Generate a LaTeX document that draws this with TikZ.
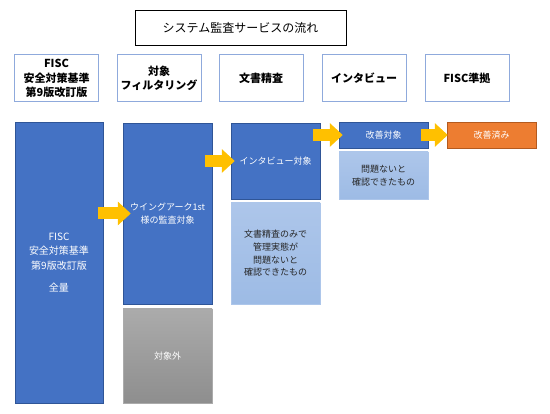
\documentclass[tikz,border=0pt]{standalone}
\usepackage{fontspec}
\setmainfont{Noto Sans CJK JP}
\usetikzlibrary{arrows.meta}
\definecolor{boxblue}{HTML}{4472C4}
\definecolor{boxedge}{HTML}{2F5597}
\definecolor{headedge}{HTML}{8FAADC}
\definecolor{paletop}{HTML}{ADC6EA}
\definecolor{palebot}{HTML}{9DBBE5}
\definecolor{greytop}{HTML}{ABABAB}
\definecolor{greybot}{HTML}{8E8E8E}
\definecolor{flowyellow}{HTML}{FFC000}
\definecolor{doneorange}{HTML}{ED7D31}
\definecolor{doneedge}{HTML}{B45A1E}

\begin{document}
\begin{tikzpicture}[x=1pt,y=-1pt,
        head/.style={draw=headedge,line width=1pt,minimum width=84pt,minimum height=47pt,align=center,font=\fontsize{11}{14.5}\selectfont\bfseries},
        bluebox/.style={fill=boxblue,draw=boxedge,text=white,align=center,minimum width=89pt,font=\fontsize{9}{12.7}\selectfont},
        palebox/.style={top color=paletop,bottom color=palebot,draw=paletop,text=black!85,align=center,minimum width=89pt,font=\fontsize{9}{12.7}\selectfont},
        flow/.style={draw=flowyellow,line width=12pt,-{Triangle[width=23pt,length=13pt]}}]
        \useasboundingbox (0,0) rectangle (550,414);
        \node[draw,line width=0.8pt,minimum width=211pt,minimum height=35pt,font=\fontsize{12}{14}\selectfont] (title) at (240.5,27.5) {システム監査サービスの流れ};
        \node[head] (h1) at (56.5,78.5) {FISC\\安全対策基準\\第9版改訂版};
        \node[head] (h2) at (159,78.5) {対象\\フィルタリング};
        \node[head] (h3) at (261,78.5) {文書精査};
        \node[head] (h4) at (364,78.5) {インタビュー};
        \node[head] (h5) at (467,78.5) {FISC準拠};
        \node[bluebox,minimum width=88pt,minimum height=281pt,font=\fontsize{10}{14.3}\selectfont] (all) at (59,262.5) {FISC\\安全対策基準\\第9版改訂版\\[8pt]全量};
        \node[bluebox,minimum height=181pt] (filt) at (167.5,213.5) {ウイングアーク1st\\様の監査対象};
        \node[top color=greytop,bottom color=greybot,draw=greytop,text=white,minimum width=89pt,minimum height=94pt,font=\fontsize{9}{12.7}\selectfont] (out) at (167.5,356) {対象外};
        \node[bluebox,minimum height=76pt] (itv) at (275.5,161) {インタビュー対象};
        \node[palebox,minimum height=101pt] (doc) at (275.5,253.5) {文書精査のみで\\管理実態が\\問題ないと\\確認できたもの};
        \node[bluebox,minimum height=26pt] (fix) at (383.5,135) {改善対象};
        \node[palebox,minimum height=47pt] (ok) at (383.5,175.5) {問題ないと\\確認できたもの};
        \node[fill=doneorange,draw=doneedge,text=white,minimum width=89pt,minimum height=26pt,font=\fontsize{9}{12.7}\selectfont] (done) at (491.5,135) {改善済み};
        \draw[flow,shorten <=-5pt,shorten >=-8pt] (all.east |- filt.west) -- (filt.west);
        \draw[flow,shorten <=-7pt,shorten >=-4pt] (filt.east |- itv.west) -- (itv.west);
        \draw[flow,shorten <=-7pt,shorten >=-4pt] (itv.east |- fix.west) -- (fix.west);
        \draw[flow,shorten <=-7pt,shorten >=-1pt] (fix.east) -- (done.west);
\end{tikzpicture}
\end{document}
